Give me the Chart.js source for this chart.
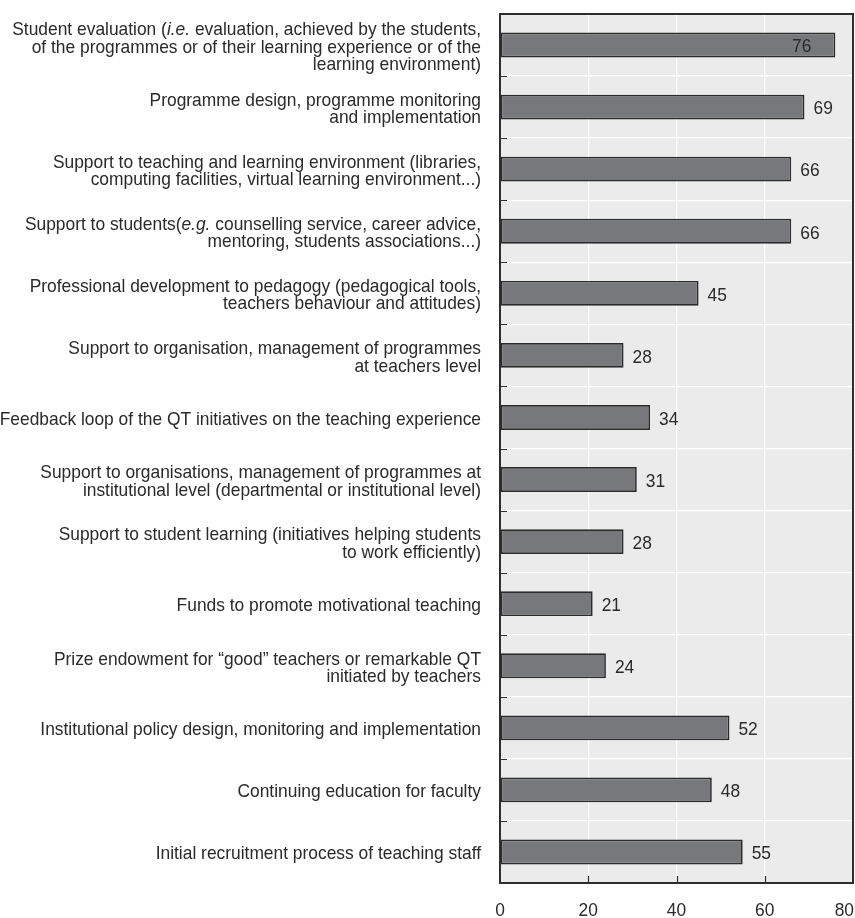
<!DOCTYPE html>
<html>
<head>
<meta charset="utf-8">
<script src="https://cdn.jsdelivr.net/npm/chart.js@4.4.1/dist/chart.umd.min.js"></script>
<style>
  html, body { margin: 0; padding: 0; background: #ffffff; }
  #wrap { width: 855px; height: 918px; position: relative; }
</style>
</head>
<body>
<div id="wrap"><canvas id="chart" width="855" height="918"></canvas></div>
<script>
// Category labels: "\n" breaks a line, text between underscores is set in italics.
const categories = [
  "Student evaluation (_i.e._ evaluation, achieved by the students,\nof the programmes or of their learning experience or of the\nlearning environment)",
  "Programme design, programme monitoring\nand implementation",
  "Support to teaching and learning environment (libraries,\ncomputing facilities, virtual learning environment...)",
  "Support to students(_e.g._ counselling service, career advice,\nmentoring, students associations...)",
  "Professional development to pedagogy (pedagogical tools,\nteachers behaviour and attitudes)",
  "Support to organisation, management of programmes\nat teachers level",
  "Feedback loop of the QT initiatives on the teaching experience",
  "Support to organisations, management of programmes at\ninstitutional level (departmental or institutional level)",
  "Support to student learning (initiatives helping students\nto work efficiently)",
  "Funds to promote motivational teaching",
  "Prize endowment for \u201cgood\u201d teachers or remarkable QT\ninitiated by teachers",
  "Institutional policy design, monitoring and implementation",
  "Continuing education for faculty",
  "Initial recruitment process of teaching staff"
];
const values = [76, 69, 66, 66, 45, 28, 34, 31, 28, 21, 24, 52, 48, 55];
const xTicks = [0, 20, 40, 60, 80];

const FAMILY = '"Liberation Sans", Arial, sans-serif';
const SIZE = 19;
const SX = 0.915;         // slight horizontal condensing of the type
const TEXT = '#2a2a2a';
const plainLabels = categories.map(s => s.replace(/_/g, ''));

function font(italic) { return (italic ? 'italic ' : '') + SIZE + 'px ' + FAMILY; }
function textWidth(ctx, t, italic) { ctx.font = font(italic); return ctx.measureText(t).width * SX; }
function drawText(ctx, t, x, y, italic) {
  ctx.save();
  ctx.font = font(italic);
  ctx.textAlign = 'left';
  ctx.textBaseline = 'alphabetic';
  ctx.translate(x, y);
  ctx.scale(SX, 1);
  ctx.fillText(t, 0, 0);
  ctx.restore();
}

// Plot background, frame, inward tick marks and all axis/value text.
const decor = {
  id: 'decor',
  beforeDraw(chart) {
    const { ctx, chartArea: a } = chart;
    ctx.save();
    ctx.fillStyle = '#ebebeb';
    ctx.fillRect(a.left, a.top, a.right - a.left, a.bottom - a.top);
    ctx.restore();
  },
  afterDatasetsDraw(chart) {
    const { ctx, chartArea: a, scales } = chart;
    const xs = scales.x, ys = scales.y;
    ctx.save();

    // frame
    ctx.strokeStyle = '#2e2e2e';
    ctx.lineWidth = 2;
    ctx.strokeRect(a.left, a.top, a.right - a.left, a.bottom - a.top);

    // inward ticks: category boundaries on the left, values along the bottom
    ctx.lineWidth = 1.2;
    ctx.beginPath();
    for (let i = 1; i < categories.length; i++) {
      const yy = Math.round((ys.getPixelForValue(i - 1) + ys.getPixelForValue(i)) / 2) + 0.5;
      ctx.moveTo(a.left, yy);
      ctx.lineTo(a.left + 7, yy);
    }
    xTicks.slice(1, -1).forEach(v => {
      const xx = Math.round(xs.getPixelForValue(v)) + 0.5;
      ctx.moveTo(xx, a.bottom);
      ctx.lineTo(xx, a.bottom - 7);
    });
    ctx.stroke();

    ctx.fillStyle = TEXT;

    // value labels beside the bar ends (inside the bar when there is no room)
    const meta = chart.getDatasetMeta(0);
    meta.data.forEach((bar, i) => {
      const txt = String(values[i]);
      const w = textWidth(ctx, txt, false);
      const x = (bar.x + 9 + w > a.right - 4) ? bar.x - 24 - w : bar.x + 9;
      drawText(ctx, txt, x, bar.y + 7.3, false);
    });

    // value axis labels, kept inside the canvas at the right edge
    xTicks.forEach(v => {
      const txt = String(v);
      const w = textWidth(ctx, txt, false);
      let left = xs.getPixelForValue(v) - w / 2;
      if (left + w > chart.width - 1) left = chart.width - 1 - w;
      drawText(ctx, txt, left, a.bottom + 32.5, false);
    });

    // category labels, right-aligned with italic runs
    const lineH = 17.3;
    const right = a.left - 19;
    categories.forEach((label, i) => {
      const lines = label.split('\n');
      const cy = ys.getPixelForValue(i) + 7.5;
      lines.forEach((line, k) => {
        const y = cy + (k - (lines.length - 1) / 2) * lineH;
        const runs = line.split('_').map((t, j) => ({ t, it: j % 2 === 1 }));
        let total = 0;
        runs.forEach(r => { r.w = textWidth(ctx, r.t, r.it); total += r.w; });
        let x = right - total;
        runs.forEach(r => { drawText(ctx, r.t, x, y, r.it); x += r.w; });
      });
    });
    ctx.restore();
  }
};

new Chart(document.getElementById('chart'), {
  type: 'bar',
  data: {
    labels: plainLabels,
    datasets: [{
      data: values,
      backgroundColor: '#77787c',
      borderColor: '#2b2b2b',
      borderWidth: 1.7,
      borderSkipped: false,
      barPercentage: 0.8,
      categoryPercentage: 0.5
    }]
  },
  options: {
    indexAxis: 'y',
    responsive: false,
    animation: false,
    devicePixelRatio: 1,
    layout: { padding: { left: 500, right: 2, top: 14, bottom: 0 } },
    plugins: { legend: { display: false }, tooltip: { enabled: false } },
    scales: {
      x: {
        min: 0, max: 80,
        afterBuildTicks: s => { s.ticks = xTicks.map(v => ({ value: v })); },
        ticks: { display: false },
        grid: { color: '#ffffff', lineWidth: 1.3, drawTicks: false },
        border: { display: false },
        afterFit: s => { s.height = 35; s.paddingLeft = 0; s.paddingRight = 0; }
      },
      y: {
        ticks: { display: false },
        grid: { color: '#ffffff', lineWidth: 1.3, drawTicks: false, offset: true },
        border: { display: false },
        afterFit: s => { s.width = 0; }
      }
    }
  },
  plugins: [decor]
});
</script>
</body>
</html>
